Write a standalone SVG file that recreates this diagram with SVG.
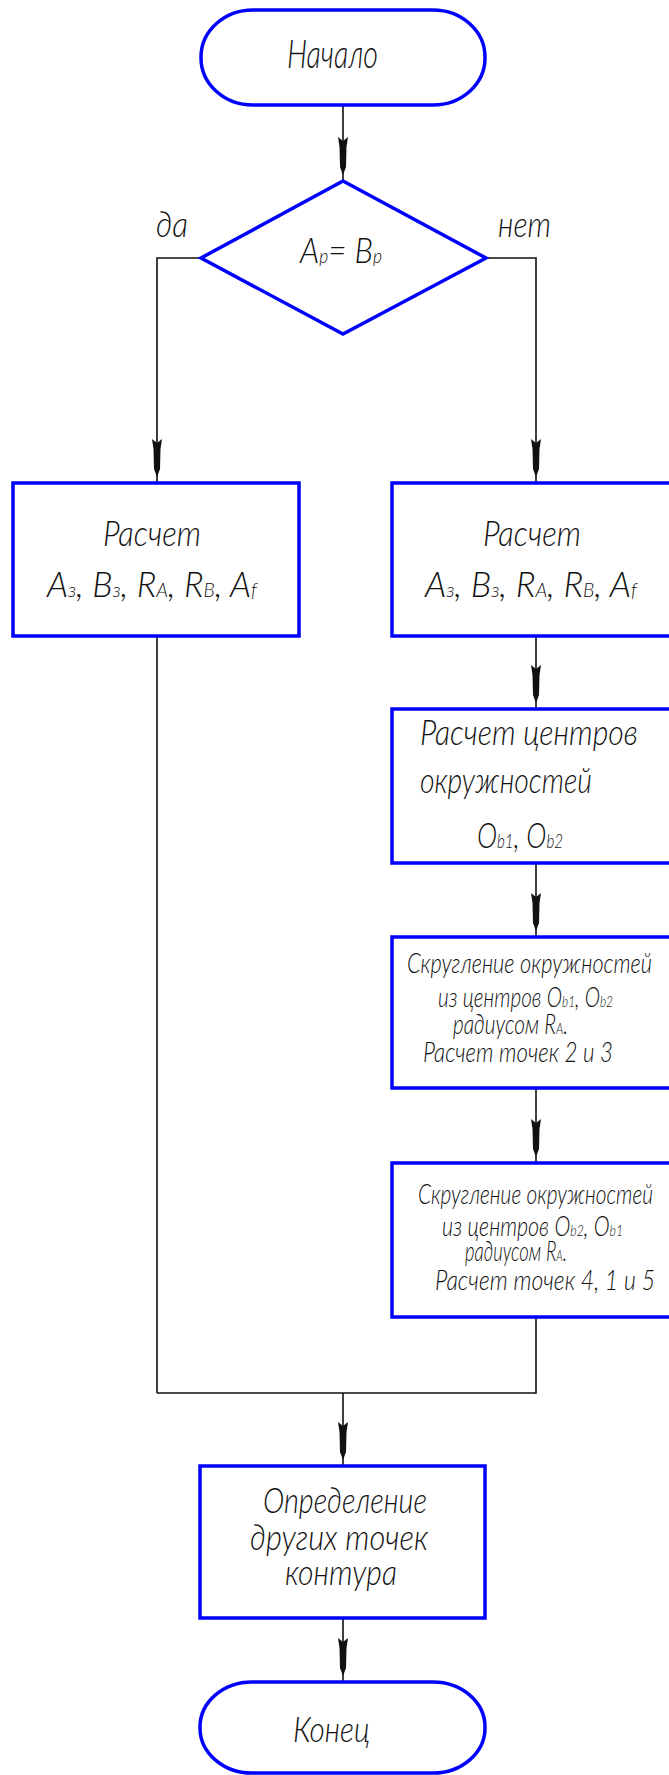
<svg xmlns="http://www.w3.org/2000/svg" width="669" height="1775" viewBox="0 0 669 1775">
<style>
.blk{fill:#fff;stroke:#0000ff;stroke-width:3.5}
.conn path{fill:none;stroke:#111;stroke-width:1.6}
text{font-family:Lato,"Liberation Sans",Arial,sans-serif;font-style:italic;font-weight:300;fill:#111}
.t40{font-size:40px}
.t36{font-size:36px}
.t28{font-size:28px}
.sub{font-size:20px}
.sub2{font-size:16px}
</style>
<defs>
<marker id="arr" markerUnits="userSpaceOnUse" orient="auto" refX="0" refY="0" markerWidth="60" markerHeight="20" viewBox="-50 -10 60 20" overflow="visible">
<path d="M-44,-5 L-40,0 L-44,5 L-34,3.5 L-14,3 L-6,0 L-14,-3 L-34,-3.5 Z" fill="#111"/>
</marker>
</defs>
<rect width="669" height="1775" fill="#fff"/>

<g id="connectors" class="conn">
<path d="M343,105 V181" marker-end="url(#arr)"/>
<path d="M201,258 H157 V483" marker-end="url(#arr)"/>
<path d="M486,258 H536 V483" marker-end="url(#arr)"/>
<path d="M536,636 V709" marker-end="url(#arr)"/>
<path d="M536,863 V937" marker-end="url(#arr)"/>
<path d="M536,1088 V1163" marker-end="url(#arr)"/>
<path d="M536,1317 V1393 H157"/>
<path d="M157,636 V1393"/>
<path d="M343,1393 V1466" marker-end="url(#arr)"/>
<path d="M343,1618 V1682" marker-end="url(#arr)"/>
</g>

<g id="start">
<rect class="blk" x="201" y="10" width="284" height="95" rx="52" ry="47"/>
<text class="t40" x="287" y="68" textLength="91" lengthAdjust="spacingAndGlyphs">Начало</text>
</g>

<g id="decision">
<polygon class="blk" points="343,181 486,258 343,334 201,258"/>
<text class="t36" x="300" y="263" textLength="82" lengthAdjust="spacingAndGlyphs">A<tspan class="sub">p</tspan>= B<tspan class="sub">p</tspan></text>
</g>

<g id="label-yes">
<text class="t36" x="156" y="237" textLength="32" lengthAdjust="spacingAndGlyphs">да</text>
</g>
<g id="label-no">
<text class="t36" x="498" y="237" textLength="53" lengthAdjust="spacingAndGlyphs">нет</text>
</g>

<g id="calc-left">
<rect class="blk" x="13" y="483" width="286" height="153"/>
<text class="t36" x="103" y="546" textLength="98" lengthAdjust="spacingAndGlyphs">Расчет</text>
<text class="t36" x="47" y="597" textLength="210" lengthAdjust="spacingAndGlyphs">A<tspan class="sub">з</tspan>, B<tspan class="sub">з</tspan>, R<tspan class="sub">A</tspan>, R<tspan class="sub">B</tspan>, A<tspan class="sub">f</tspan></text>
</g>

<g id="calc-right">
<rect class="blk" x="392" y="483" width="288" height="153"/>
<text class="t36" x="483" y="546" textLength="98" lengthAdjust="spacingAndGlyphs">Расчет</text>
<text class="t36" x="425" y="597" textLength="212" lengthAdjust="spacingAndGlyphs">A<tspan class="sub">з</tspan>, B<tspan class="sub">з</tspan>, R<tspan class="sub">A</tspan>, R<tspan class="sub">B</tspan>, A<tspan class="sub">f</tspan></text>
</g>

<g id="centers">
<rect class="blk" x="392" y="709" width="288" height="154"/>
<text class="t36" x="420" y="745" textLength="218" lengthAdjust="spacingAndGlyphs">Расчет центров</text>
<text class="t36" x="420" y="793" textLength="172" lengthAdjust="spacingAndGlyphs">окружностей</text>
<text class="t36" x="477" y="848" textLength="86" lengthAdjust="spacingAndGlyphs">O<tspan class="sub">b1</tspan>,  O<tspan class="sub">b2</tspan></text>
</g>

<g id="round1">
<rect class="blk" x="392" y="937" width="288" height="151"/>
<text class="t28" x="407" y="973" textLength="245" lengthAdjust="spacingAndGlyphs">Скругление окружностей</text>
<text class="t28" x="438" y="1007" textLength="175" lengthAdjust="spacingAndGlyphs">из центров O<tspan class="sub2">b1</tspan>, O<tspan class="sub2">b2</tspan></text>
<text class="t28" x="453" y="1034" textLength="115" lengthAdjust="spacingAndGlyphs">радиусом R<tspan class="sub2">A</tspan>.</text>
<text class="t28" x="423" y="1062" textLength="190" lengthAdjust="spacingAndGlyphs">Расчет точек 2 и 3</text>
</g>

<g id="round2">
<rect class="blk" x="392" y="1163" width="288" height="154"/>
<text class="t28" x="418" y="1204" textLength="235" lengthAdjust="spacingAndGlyphs">Скругление окружностей</text>
<text class="t28" x="442" y="1236" textLength="181" lengthAdjust="spacingAndGlyphs">из центров O<tspan class="sub2">b2</tspan>, O<tspan class="sub2">b1</tspan></text>
<text class="t28" x="465" y="1261" textLength="102" lengthAdjust="spacingAndGlyphs">радиусом R<tspan class="sub2">A</tspan>.</text>
<text class="t28" x="435" y="1290" textLength="220" lengthAdjust="spacingAndGlyphs">Расчет точек 4, 1 и 5</text>
</g>

<g id="other-points">
<rect class="blk" x="200" y="1466" width="285" height="152"/>
<text class="t36" x="263" y="1513" textLength="164" lengthAdjust="spacingAndGlyphs">Определение</text>
<text class="t36" x="250" y="1550" textLength="178" lengthAdjust="spacingAndGlyphs">других точек</text>
<text class="t36" x="285" y="1585" textLength="112" lengthAdjust="spacingAndGlyphs">контура</text>
</g>

<g id="end">
<rect class="blk" x="200" y="1682" width="285" height="91" rx="52" ry="45"/>
<text class="t36" x="293" y="1742" textLength="77" lengthAdjust="spacingAndGlyphs">Конец</text>
</g>
</svg>
